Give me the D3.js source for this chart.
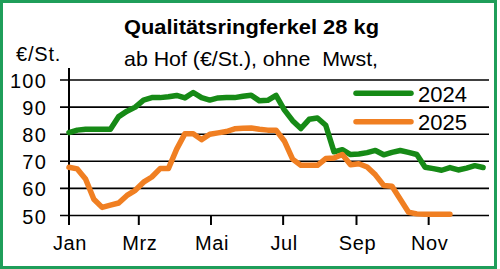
<!DOCTYPE html>
<html>
<head>
<meta charset="utf-8">
<script src="https://cdn.jsdelivr.net/npm/d3@7"></script>
<style>
  body { margin: 0; background: #fff; }
</style>
</head>
<body>
<script>
// Wochenpreise, je eine Zahl pro Woche ab 1. Januar
const preis2024 = [80.6, 81.5, 81.8, 81.8, 81.8, 81.8, 86.5, 88.5, 90, 92.6, 93.5,
  93.5, 93.8, 94.3, 93.4, 95.4, 93.5, 92.6, 93.4, 93.5, 93.5,
  94, 94.4, 92.3, 92.5, 94.3, 89, 85, 82.1, 85.5, 86,
  83.3, 73.5, 74.3, 72.5, 72.7, 73.2, 74, 72.4, 73.3, 74,
  73.3, 72.5, 67.8, 67.3, 66.7, 67.7, 66.8, 67.5, 68.4, 67.7];
const preis2025 = [67.8, 67.2, 63.5, 56, 53, 53.8, 54.6, 57.4, 59.3, 62.3, 64.2,
  67.3, 67.3, 74.5, 80.2, 80.2, 78, 80, 80.5, 81, 82,
  82.2, 82.3, 81.8, 81.5, 81.5, 77.5, 70.8, 68.5, 68.5, 68.5,
  71, 71.2, 72.5, 68.7, 69.1, 67.9, 65, 61.1, 60.8, 56,
  51.2, 50.6, 50.5, 50.5, 50.5, 50.5];
const jahre = ["2024", "2025"];
const farben = ["#168a16", "#f07f22"];
const yTicks = [50, 60, 70, 80, 90, 100];
const monatLabels = ["Jan", "Mrz", "Mai", "Jul", "Sep", "Nov"];

const W = 500, H = 269;
const pLeft = 69, pRight = 489, pTop = 80, pBottom = 215.5;

const svg = d3.select("body").append("svg")
  .attr("width", W)
  .attr("height", H)
  .style("font-family", "'Liberation Sans', Arial, sans-serif");

const woche = i => new Date(2025, 0, 1 + 7 * i);

const x = d3.scaleTime()
  .domain([new Date(2025, 0, 1), new Date(2025, 11, 22)])
  .range([pLeft, pRight]);
const y = d3.scaleLinear()
  .domain([50, 100])
  .range([pBottom, pTop]);

// Rahmen
svg.append("rect")
  .attr("x", 1.5).attr("y", 1.5)
  .attr("width", 494).attr("height", 266)
  .attr("fill", "none")
  .attr("stroke", "#1f9e5a")
  .attr("stroke-width", 3);

// Gitterlinien + y-Beschriftung
svg.selectAll(".grid")
  .data(yTicks)
  .enter()
  .append("line")
    .attr("x1", 60).attr("x2", pRight)
    .attr("y1", d => y(d)).attr("y2", d => y(d))
    .attr("stroke", "#000")
    .attr("stroke-width", 1.6);

svg.selectAll(".ylab")
  .data(yTicks)
  .enter()
  .append("text")
    .attr("x", 47)
    .attr("y", d => y(d) + 8)
    .attr("text-anchor", "end")
    .attr("font-size", "20px")
    .attr("letter-spacing", "1.2px")
    .text(d => d);

// x-Achse (Monatsticks)
const monate = d3.timeMonth.every(2).range(new Date(2025, 0, 1), new Date(2025, 11, 1));

svg.append("line")
  .attr("x1", pLeft).attr("x2", pLeft)
  .attr("y1", 68).attr("y2", 225)
  .attr("stroke", "#000")
  .attr("stroke-width", 2);

svg.selectAll(".xtick")
  .data(monate)
  .enter()
  .append("line")
    .attr("x1", d => x(d)).attr("x2", d => x(d))
    .attr("y1", pBottom).attr("y2", 225)
    .attr("stroke", "#000")
    .attr("stroke-width", 2);

svg.selectAll(".xlab")
  .data(monate)
  .enter()
  .append("text")
    .attr("x", d => x(d) + 1)
    .attr("y", 250)
    .attr("text-anchor", "middle")
    .attr("font-size", "20px")
    .attr("letter-spacing", "0.6px")
    .text((d, i) => monatLabels[i]);

// Linien
const line = d3.line()
  .x((d, i) => x(woche(i)))
  .y(d => y(d));

[preis2024, preis2025].forEach((s, k) => {
  svg.append("path")
    .datum(s)
    .attr("fill", "none")
    .attr("stroke", farben[k])
    .attr("stroke-width", 5.5)
    .attr("stroke-linecap", "round")
    .attr("stroke-linejoin", "round")
    .attr("d", line);
});

// Legende
jahre.forEach((j, k) => {
  const ly = 93.3 + k * 28.4;
  svg.append("line")
    .attr("x1", 356).attr("x2", 411)
    .attr("y1", ly).attr("y2", ly)
    .attr("stroke", farben[k])
    .attr("stroke-width", 5.5)
    .attr("stroke-linecap", "round");
  svg.append("text")
    .attr("x", 418)
    .attr("y", ly + 8.4)
    .attr("font-size", "22px")
    .text(j);
});

// Titel
svg.append("text")
  .attr("x", 124).attr("y", 33.5)
  .attr("font-size", "21px")
  .attr("font-weight", "bold")
  .attr("textLength", 255)
  .attr("lengthAdjust", "spacingAndGlyphs")
  .text("Qualitätsringferkel 28 kg");

svg.append("text")
  .attr("x", 124).attr("y", 65.7)
  .attr("font-size", "21px")
  .attr("textLength", 254)
  .attr("lengthAdjust", "spacingAndGlyphs")
  .text("ab Hof (€/St.), ohne  Mwst,")
  .style("white-space", "pre");

svg.append("text")
  .attr("x", 16).attr("y", 61)
  .attr("font-size", "20px")
  .attr("letter-spacing", "0.8px")
  .text("€/St.");
</script>
</body>
</html>
